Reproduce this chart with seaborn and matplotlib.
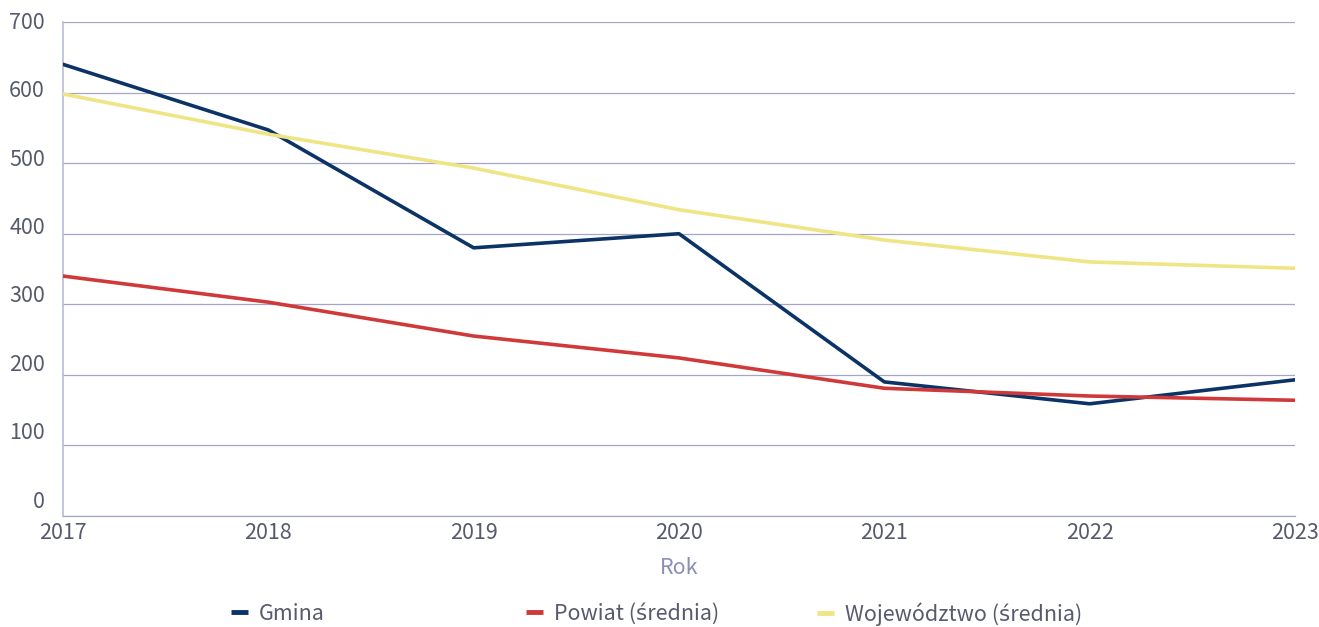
import matplotlib
matplotlib.use("Agg")
import matplotlib.pyplot as plt
import matplotlib.transforms as mtransforms
from matplotlib.lines import Line2D
import pandas as pd
import seaborn as sns

years = [2017, 2018, 2019, 2020, 2021, 2022, 2023]
gmina = [640, 547, 380, 400, 190, 159, 193]
powiat = [340, 303, 255, 224, 181, 170, 164]
wojewodztwo = [598, 541, 493, 434, 391, 360, 351]
series_names = ["Gmina", "Powiat (średnia)", "Województwo (średnia)"]
colors = ["#0b3366", "#d0393a", "#efe585"]
y_ticks = [0, 100, 200, 300, 400, 500, 600, 700]

df = pd.DataFrame({"Rok": years * 3,
                   "value": gmina + powiat + wojewodztwo,
                   "series": [n for n in series_names for _ in years]})

sns.set_theme(style="white")
plt.rcParams["font.family"] = ["Noto Sans CJK JP", "DejaVu Sans"]
text_color = "#575a6d"
grid_color = "#a3a6c8"
fs = 15.5

fig = plt.figure(figsize=(13.19, 6.27), dpi=100)
ax = fig.add_axes([63 / 1319, 1 - 516 / 627, 1232 / 1319, 494 / 627])

sns.lineplot(data=df, x="Rok", y="value", hue="series", palette=colors,
             hue_order=series_names, linewidth=2.6, ax=ax, legend=False,
             zorder=3)

ax.set_xlim(2017, 2023)
ax.set_ylim(0, 700)
ax.set_xticks(years)
ax.set_xticklabels([str(y) for y in years], fontsize=fs, color=text_color)
ax.set_yticks(y_ticks)
ax.set_yticklabels([str(v) for v in y_ticks], fontsize=fs, color=text_color)
ax.tick_params(axis="both", length=0)
ax.tick_params(axis="x", pad=4)
ax.tick_params(axis="y", pad=13)

# y labels sit a bit above their gridlines in the original
for v, lab in zip(y_ticks, ax.get_yticklabels()):
    dy = (1.5 + (700 - v) / 700 * 15.5) / 100
    lab.set_transform(lab.get_transform() +
                      mtransforms.ScaledTranslation(0, dy, fig.dpi_scale_trans))

ax.grid(axis="y", color=grid_color, linewidth=0.9)
ax.grid(axis="x", visible=False)
for side in ["top", "right"]:
    ax.spines[side].set_visible(False)
ax.spines["left"].set_color("#b8bbd6")
ax.spines["bottom"].set_color(grid_color)
ax.spines["left"].set_linewidth(1.2)
ax.spines["bottom"].set_linewidth(0.9)

ax.set_ylabel("")
ax.set_xlabel("Rok", fontsize=fs, color="#8a8fb5", labelpad=10)

# three separate legend entries, evenly spaced
legend_x = [231, 526, 817]
for name, col, lx in zip(series_names, colors, legend_x):
    h = Line2D([], [], color=col, linewidth=3.5, solid_capstyle="butt")
    leg = fig.legend(handles=[h], labels=[name], loc="center left",
                     bbox_to_anchor=(lx / 1319, 1 - 614 / 627), frameon=False,
                     fontsize=fs, handlelength=0.8, handletextpad=0.5,
                     borderaxespad=0, borderpad=0)
    for t in leg.get_texts():
        t.set_color(text_color)

fig.savefig("out.png", dpi=100)
